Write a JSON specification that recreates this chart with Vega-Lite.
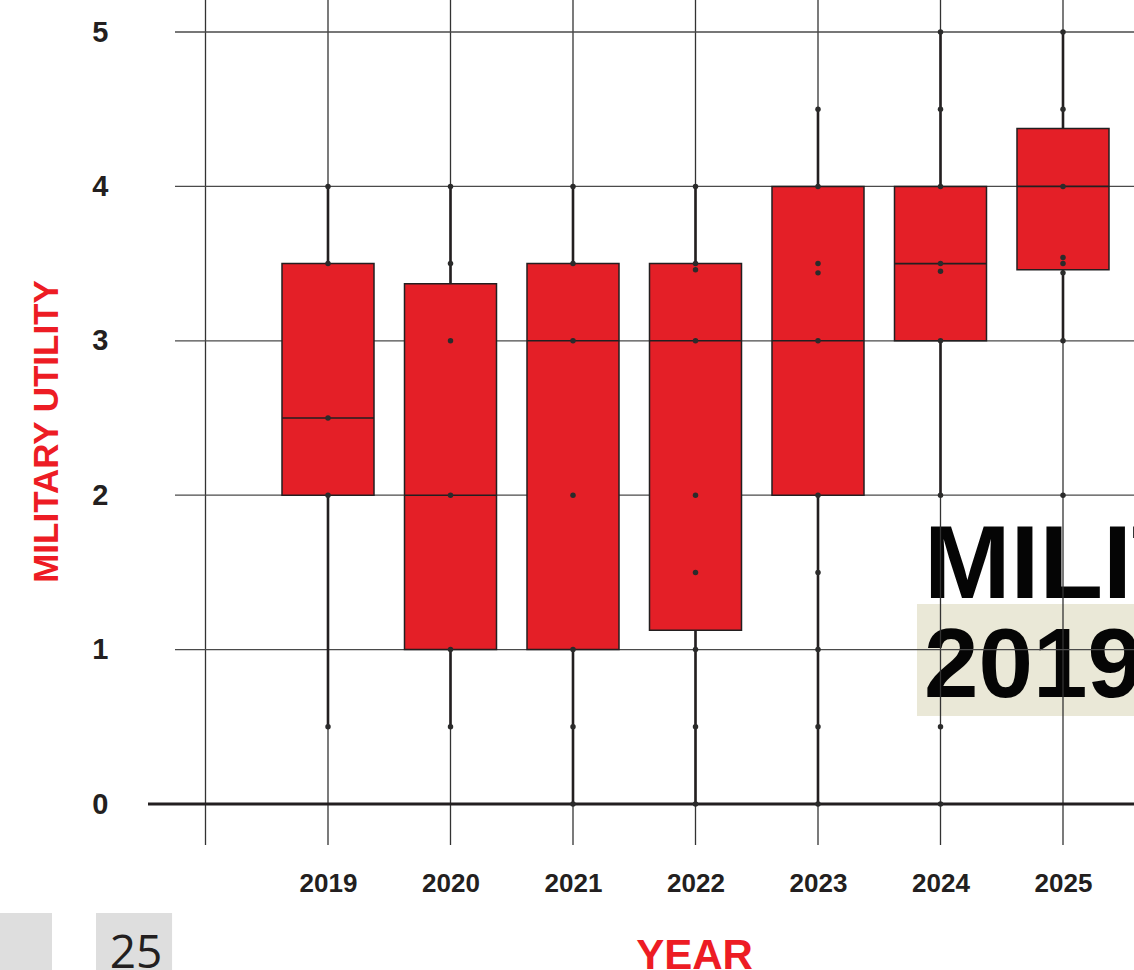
{
  "$schema": "https://vega.github.io/schema/vega-lite/v6.json",
  "width": 986,
  "height": 845,
  "autosize": {"type": "none"},
  "padding": {"left": 148, "top": 0, "right": 0, "bottom": 125},
  "background": "white",
  "config": {"view": {"stroke": null}, "scale": {"continuousPadding": 0}},
  "datasets": {
    "stats": [
      {"year": 2019, "lower": 0.5, "q1": 2, "median": 2.5, "q3": 3.5, "upper": 4},
      {"year": 2020, "lower": 0.5, "q1": 1, "median": 2, "q3": 3.37, "upper": 4},
      {"year": 2021, "lower": 0, "q1": 1, "median": 3, "q3": 3.5, "upper": 4},
      {"year": 2022, "lower": 0, "q1": 1.125, "median": 3, "q3": 3.5, "upper": 4},
      {"year": 2023, "lower": 0, "q1": 2, "median": 3, "q3": 4, "upper": 4.5},
      {"year": 2024, "lower": 2, "q1": 3, "median": 3.5, "q3": 4, "upper": 5},
      {"year": 2025, "lower": 3, "q1": 3.46, "median": 4, "q3": 4.375, "upper": 5}
    ],
    "points": [
      {"year": 2019, "value": 4}, {"year": 2019, "value": 3.5}, {"year": 2019, "value": 2.5}, {"year": 2019, "value": 2}, {"year": 2019, "value": 0.5},
      {"year": 2020, "value": 4}, {"year": 2020, "value": 3.5}, {"year": 2020, "value": 3}, {"year": 2020, "value": 2}, {"year": 2020, "value": 1}, {"year": 2020, "value": 0.5},
      {"year": 2021, "value": 4}, {"year": 2021, "value": 3.5}, {"year": 2021, "value": 3}, {"year": 2021, "value": 2}, {"year": 2021, "value": 1}, {"year": 2021, "value": 0.5}, {"year": 2021, "value": 0},
      {"year": 2022, "value": 4}, {"year": 2022, "value": 3.5}, {"year": 2022, "value": 3.46}, {"year": 2022, "value": 3}, {"year": 2022, "value": 2}, {"year": 2022, "value": 1.5}, {"year": 2022, "value": 1}, {"year": 2022, "value": 0.5}, {"year": 2022, "value": 0},
      {"year": 2023, "value": 4.5}, {"year": 2023, "value": 4}, {"year": 2023, "value": 3.5}, {"year": 2023, "value": 3.44}, {"year": 2023, "value": 3}, {"year": 2023, "value": 2}, {"year": 2023, "value": 1.5}, {"year": 2023, "value": 1}, {"year": 2023, "value": 0.5}, {"year": 2023, "value": 0},
      {"year": 2024, "value": 5}, {"year": 2024, "value": 4.5}, {"year": 2024, "value": 4}, {"year": 2024, "value": 3.5}, {"year": 2024, "value": 3.45}, {"year": 2024, "value": 3}, {"year": 2024, "value": 2}, {"year": 2024, "value": 0.5}, {"year": 2024, "value": 0},
      {"year": 2025, "value": 5}, {"year": 2025, "value": 4.5}, {"year": 2025, "value": 4}, {"year": 2025, "value": 3.54}, {"year": 2025, "value": 3.5}, {"year": 2025, "value": 3.44}, {"year": 2025, "value": 3}, {"year": 2025, "value": 2}
    ],
    "vgrid": [
      {"year": 2018}, {"year": 2019}, {"year": 2020}, {"year": 2021}, {"year": 2022}, {"year": 2023}, {"year": 2024}, {"year": 2025}
    ],
    "hgrid": [
      {"year": 2017.751, "year2": 2027, "value": 1},
      {"year": 2017.751, "year2": 2027, "value": 2},
      {"year": 2017.751, "year2": 2027, "value": 3},
      {"year": 2017.751, "year2": 2027, "value": 4},
      {"year": 2017.751, "year2": 2027, "value": 5}
    ],
    "zero": [{"year": 2017.5306, "year2": 2027, "value": 0}],
    "pagebox": [
      {"year": 2016.2, "year2": 2016.747, "v1": -0.706, "v2": -1.3},
      {"year": 2017.106, "year2": 2017.727, "v1": -0.706, "v2": -1.3}
    ],
    "pagenum": [{"year": 2017.433, "value": -1.062, "label": "25"}],
    "titlebox": [{"year": 2023.808, "year2": 2028, "v1": 1.2953, "v2": 0.5699}],
    "title1": [{"year": 2023.865, "value": 1.334, "label": "MILITARY UTILITY"}],
    "title2": [{"year": 2023.865, "value": 0.693, "label": "2019-2025"}]
  },
  "encoding": {
    "x": {
      "field": "year",
      "type": "quantitative",
      "title": "YEAR",
      "scale": {"domain": [2017.5306, 2025.5796], "nice": false, "zero": false, "padding": 0},
      "axis": {
        "values": [2019, 2020, 2021, 2022, 2023, 2024, 2025],
        "format": "d",
        "title": "YEAR",
        "grid": false,
        "domain": false,
        "ticks": false,
        "tickSize": 0,
        "labelPadding": 46,
        "labelBaseline": "alphabetic",
        "labelFont": "'Liberation Sans', Arial, sans-serif",
        "labelFontSize": 26,
        "labelFontWeight": "bold",
        "labelColor": "#231F20",
        "labelFlush": false,
        "labelOverlap": false,
        "titleFont": "'Liberation Sans', Arial, sans-serif",
        "titleFontSize": 42,
        "titleFontWeight": "bold",
        "titleColor": "#ED1C24",
        "titleX": 546,
        "titleY": 123,
        "titleBaseline": "alphabetic",
        "titleAlign": "center"
      }
    }
  },
  "layer": [
    {
      "data": {"name": "titlebox"},
      "mark": {"type": "rect", "color": "#EAE8D7"},
      "encoding": {
        "x2": {"field": "year2"},
        "y": {"field": "v1", "type": "quantitative", "title": "MILITARY UTILITY", "scale": {"domain": [-0.2655, 5.2073], "nice": false, "zero": false, "padding": 0}},
        "y2": {"field": "v2"}
      }
    },
    {
      "data": {"name": "title1"},
      "mark": {"type": "text", "align": "left", "baseline": "alphabetic", "font": "'Liberation Sans', Arial, sans-serif", "fontSize": 104, "fontWeight": "bold", "color": "#050505"},
      "encoding": {
        "y": {"field": "value", "type": "quantitative", "title": "MILITARY UTILITY", "scale": {"domain": [-0.2655, 5.2073], "nice": false, "zero": false, "padding": 0}},
        "text": {"field": "label"}
      }
    },
    {
      "data": {"name": "title2"},
      "mark": {"type": "text", "align": "left", "baseline": "alphabetic", "font": "'Liberation Sans', Arial, sans-serif", "fontSize": 98, "fontWeight": "bold", "color": "#050505"},
      "encoding": {
        "y": {"field": "value", "type": "quantitative", "title": "MILITARY UTILITY", "scale": {"domain": [-0.2655, 5.2073], "nice": false, "zero": false, "padding": 0}},
        "text": {"field": "label"}
      }
    },
    {
      "data": {"name": "vgrid"},
      "mark": {"type": "rule", "color": "#333333", "strokeWidth": 1.3},
      "encoding": {}
    },
    {
      "data": {"name": "hgrid"},
      "mark": {"type": "rule", "color": "#4a4a4a", "strokeWidth": 1.3},
      "encoding": {
        "x2": {"field": "year2"},
        "y": {"field": "value", "type": "quantitative", "title": "MILITARY UTILITY", "scale": {"domain": [-0.2655, 5.2073], "nice": false, "zero": false, "padding": 0}}
      }
    },
    {
      "data": {"name": "zero"},
      "mark": {"type": "rule", "color": "#231F20", "strokeWidth": 3.2},
      "encoding": {
        "x2": {"field": "year2"},
        "y": {"field": "value", "type": "quantitative", "title": "MILITARY UTILITY", "scale": {"domain": [-0.2655, 5.2073], "nice": false, "zero": false, "padding": 0}}
      }
    },
    {
      "data": {"name": "stats"},
      "mark": {"type": "rule", "color": "#231F20", "strokeWidth": 2.6},
      "encoding": {
        "y": {"field": "lower", "type": "quantitative", "title": "MILITARY UTILITY", "scale": {"domain": [-0.2655, 5.2073], "nice": false, "zero": false, "padding": 0}},
        "y2": {"field": "upper"}
      }
    },
    {
      "data": {"name": "stats"},
      "mark": {"type": "bar", "width": 92, "fill": "#E41F27", "stroke": "#231F20", "strokeWidth": 1.5, "opacity": 1},
      "encoding": {
        "y": {"field": "q1", "type": "quantitative", "title": "MILITARY UTILITY", "scale": {"domain": [-0.2655, 5.2073], "nice": false, "zero": false, "padding": 0}},
        "y2": {"field": "q3"}
      }
    },
    {
      "data": {"name": "stats"},
      "mark": {"type": "tick", "orient": "horizontal", "size": 92, "thickness": 1.6, "color": "#231F20", "opacity": 1},
      "encoding": {
        "y": {"field": "median", "type": "quantitative", "title": "MILITARY UTILITY", "scale": {"domain": [-0.2655, 5.2073], "nice": false, "zero": false, "padding": 0}}
      }
    },
    {
      "data": {"name": "points"},
      "mark": {"type": "circle", "size": 30, "color": "#2b2b2b", "opacity": 1},
      "encoding": {
        "y": {
          "field": "value",
          "type": "quantitative",
          "title": "MILITARY UTILITY",
          "scale": {"domain": [-0.2655, 5.2073], "nice": false, "zero": false, "padding": 0},
          "axis": {
            "values": [0, 1, 2, 3, 4, 5],
            "format": "d",
            "title": "MILITARY UTILITY",
            "grid": false,
            "domain": false,
            "ticks": false,
            "tickSize": 0,
            "labelPadding": 40,
            "labelAlign": "right",
            "labelBaseline": "middle",
            "labelFont": "'Liberation Sans', Arial, sans-serif",
            "labelFontSize": 29,
            "labelFontWeight": "bold",
            "labelColor": "#231F20",
            "labelFlush": false,
            "labelOverlap": false,
            "titleFont": "'Liberation Sans', Arial, sans-serif",
            "titleFontSize": 35,
            "titleFontWeight": "bold",
            "titleColor": "#ED1C24",
            "titleAngle": -90,
            "titleX": -91,
            "titleY": 431,
            "titleBaseline": "alphabetic",
            "titleAlign": "center"
          }
        }
      }
    },
    {
      "data": {"name": "pagebox"},
      "mark": {"type": "rect", "color": "#DEDEDE"},
      "encoding": {
        "x2": {"field": "year2"},
        "y": {"field": "v1", "type": "quantitative", "title": "MILITARY UTILITY", "scale": {"domain": [-0.2655, 5.2073], "nice": false, "zero": false, "padding": 0}},
        "y2": {"field": "v2"}
      }
    },
    {
      "data": {"name": "pagenum"},
      "mark": {"type": "text", "align": "center", "baseline": "alphabetic", "font": "'Open Sans', sans-serif", "fontSize": 46, "color": "#231F20"},
      "encoding": {
        "y": {"field": "value", "type": "quantitative", "title": "MILITARY UTILITY", "scale": {"domain": [-0.2655, 5.2073], "nice": false, "zero": false, "padding": 0}},
        "text": {"field": "label"}
      }
    }
  ]
}
